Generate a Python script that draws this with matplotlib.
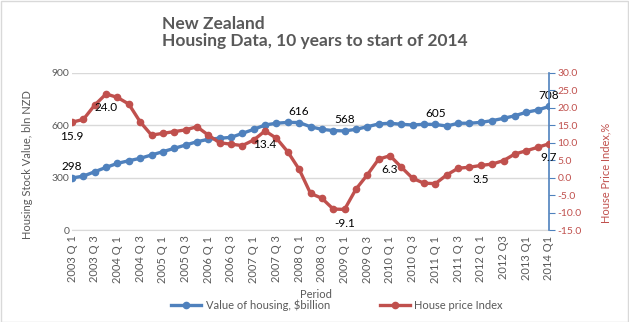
import matplotlib
matplotlib.use("Agg")
import matplotlib.pyplot as plt
from matplotlib.patches import Rectangle

plt.rcParams['font.family'] = ['Lato', 'DejaVu Sans']

# ---- data ----
quarters = [f"{y} Q{q}" for y in range(2003, 2014) for q in (1, 2, 3, 4)][:42] + ["2014 Q1"]
housing_value = [298, 309, 334, 359, 382, 397, 411, 430, 449, 468, 487, 506,
                 520, 526, 531, 554, 577, 602, 612, 617, 616, 592, 577, 570,
                 568, 577, 592, 608, 612, 606, 602, 606, 605, 596, 612, 612,
                 617, 627, 640, 655, 675, 688, 708]
price_index = [15.9, 16.7, 20.8, 24.0, 23.0, 21.1, 16.0, 12.2, 12.7, 13.2, 13.7, 14.6,
               12.2, 10.0, 9.6, 9.2, 10.8, 13.4, 11.3, 7.4, 2.4, -4.5, -5.9, -9.0,
               -9.1, -3.3, 0.8, 5.3, 6.3, 3.0, -0.2, -1.6, -1.7, 0.8, 2.7, 3.0,
               3.5, 3.9, 4.9, 6.8, 7.7, 8.7, 9.7]
tick_labels = ["2003 Q 1", "2003 Q 3", "2004 Q 1", "2004 Q 3", "2005 Q 1", "2005 Q 3",
               "2006 Q 1", "2006 Q 3", "2007 Q 1", "2007 Q 3", "2008 Q 1", "2008 Q 3",
               "2009 Q 1", "2009 Q 3", "2010 Q 1", "2010 Q 3", "2011 Q 1", "2011 Q 3",
               "2012 Q 1", "2012 Q3", "2013 Q1", "2014 Q1"]
value_labels_idx = [0, 20, 24, 32, 42]          # labelled points on housing series
index_labels_idx = [0, 3, 17, 24, 28, 36, 42]   # labelled points on price index

BLUE = "#4F81BD"
RED = "#C0504D"
GRAY = "#595959"

W, H = 629, 322
fig = plt.figure(figsize=(W / 100, H / 100), dpi=100)
fig.patches.append(Rectangle((0.5 / W, 0.5 / H), 1 - 1.5 / W, 1 - 1.5 / H,
                             transform=fig.transFigure, fill=False,
                             edgecolor="#D9D9D9", linewidth=1))

left, right, top, bottom = 72, 549, 73, 230
ax = fig.add_axes([left / W, 1 - bottom / H, (right - left) / W, (bottom - top) / H])
ax2 = ax.twinx()

x = list(range(len(quarters)))

ax.plot(x, housing_value, color=BLUE, lw=2.4, marker="o", ms=4.5, zorder=3,
        label="Value of housing, $billion")
ax2.plot(x, price_index, color=RED, lw=2.4, marker="o", ms=4.5, zorder=3,
         label="House price Index")

ax.set_xlim(0, len(quarters) - 1)
ax.set_ylim(0, 900)
ax.set_yticks([0, 300, 600, 900])
ax2.set_ylim(-15, 30)
ax2.set_yticks(list(range(-15, 31, 5)))
ax2.set_yticklabels([f"{v:.1f}" for v in range(-15, 31, 5)])

ax.grid(axis="y", color="#D9D9D9", lw=1)
ax.set_axisbelow(True)
ax.set_xticks(x[::2])
ax.set_xticklabels(tick_labels, rotation=90)

for s in ["left", "top", "right"]:
    ax.spines[s].set_visible(False)
ax.spines["bottom"].set_color("#D9D9D9")
for s in ["left", "top", "bottom"]:
    ax2.spines[s].set_visible(False)
ax2.spines["right"].set_color(BLUE)
ax2.spines["right"].set_linewidth(1.2)

ax.tick_params(axis="y", length=0, labelsize=7.5, labelcolor=GRAY, pad=2)
ax.tick_params(axis="x", length=0, labelsize=8, labelcolor=GRAY, pad=4)
ax2.tick_params(axis="y", length=4, color=BLUE, labelsize=7.5, labelcolor=RED, pad=2)

# data labels
for i in value_labels_idx:
    ax.annotate(f"{housing_value[i]}", (i, housing_value[i]), xytext=(0, 4),
                textcoords="offset points", ha="center", va="bottom", fontsize=8.5, color="black")
for i in index_labels_idx:
    ax2.annotate(f"{price_index[i]:.1f}", (i, price_index[i]), xytext=(0, -6),
                 textcoords="offset points", ha="center", va="top", fontsize=8.5, color="black")

fig.text(28 / W, 1 - 165 / H, "Housing Stock Value, bln NZD", rotation=90,
         ha="center", va="center", fontsize=8, color=GRAY)
fig.text(606 / W, 1 - 173 / H, "House Price Index,%", rotation=90,
         ha="center", va="center", fontsize=8, color=RED)
fig.text(316 / W, 1 - 295 / H, "Period", ha="center", va="center", fontsize=8, color=GRAY)

fig.text(162 / W, 1 - 16 / H, "New Zealand\nHousing Data, 10 years to start of 2014",
         ha="left", va="top", fontsize=12.5, fontweight="bold", color=GRAY, linespacing=1.05)

h1, l1 = ax.get_legend_handles_labels()
h2, l2 = ax2.get_legend_handles_labels()
fig.legend(h1 + h2, l1 + l2, loc="center", bbox_to_anchor=(337 / W, 1 - 305 / H),
           ncol=2, frameon=False, fontsize=8, labelcolor=GRAY, handlelength=2.7,
           columnspacing=4.5, handletextpad=0.4, borderpad=0)

fig.savefig("out.png", dpi=100)
